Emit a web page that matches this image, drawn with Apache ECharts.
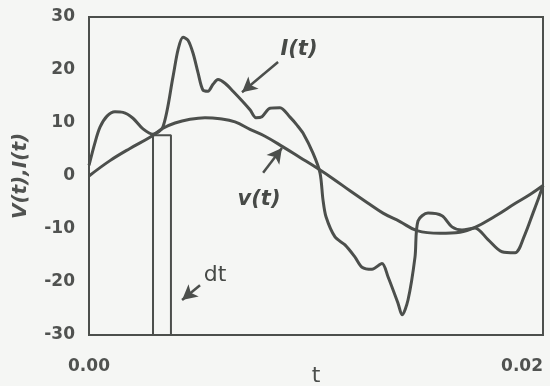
<!DOCTYPE html>
<html>
<head>
<meta charset="utf-8">
<script src="https://cdn.jsdelivr.net/npm/echarts@6/dist/echarts.min.js"></script>
<style>
html,body{margin:0;padding:0;background:#f5f6f4;}
#c{width:550px;height:386px;}
</style>
</head>
<body>
<div id="c"></div>
<script>
// time axis (s)
var tMin = 0, tMax = 0.02;
var yTicks = [-30, -20, -10, 0, 10, 20, 30];

// v(t): voltage
var vT = [0,0.000925,0.001806,0.002687,0.00326,0.003789,0.004449,0.00511,0.005771,0.006432,0.007093,0.007753,0.008546,0.009295,0.010044,0.010749,0.011498,0.012247,0.012952,0.0137,0.014449,0.015463,0.016344,0.017004,0.017885,0.018767,0.019427,0.02];
var vV = [0,2.9,5.2,7.3,9.0,10.0,10.7,11.0,10.8,10.2,8.8,7.5,5.5,3.5,1.5,-0.5,-2.8,-5.0,-7.0,-8.6,-10.3,-10.8,-10.6,-9.7,-7.6,-5.2,-3.5,-1.8];

// I(t): current
var iT = [0,0.000264,0.000485,0.000793,0.001145,0.001498,0.001938,0.002379,0.002819,0.00326,0.0037,0.003921,0.004141,0.004361,0.004581,0.004802,0.005022,0.005242,0.005463,0.005683,0.005991,0.006344,0.00674,0.007093,0.007357,0.007621,0.007974,0.008414,0.008855,0.009163,0.009427,0.009868,0.010176,0.010308,0.010441,0.010837,0.011278,0.011718,0.012026,0.012467,0.012907,0.013172,0.013612,0.013789,0.014053,0.014361,0.014493,0.014934,0.015551,0.015991,0.016432,0.017004,0.017577,0.018194,0.018767,0.019207,0.019559,0.01978,0.02];
var iV = [2.0,6.3,9.2,11.3,12.1,12.0,10.9,8.9,7.9,9.3,18.7,23.8,26.2,25.6,23.2,19.5,16.2,16.0,17.3,18.2,17.5,16.0,14.2,12.5,11.0,11.2,12.8,12.9,11.1,9.6,8.1,4.3,0.6,-4.5,-7.7,-11.5,-13.0,-15.3,-17.2,-17.6,-16.5,-19.0,-24.0,-26.2,-23.4,-15.3,-8.5,-7.0,-7.5,-9.6,-10.2,-9.8,-12.0,-14.3,-14.5,-11.0,-7.0,-4.5,-1.8];

// dt strip
var dtT = [0.00282, 0.00361];
var dtTop = 7.7;

// annotations: [label, labelT, labelV, arrowFromT, arrowFromV, arrowToT, arrowToV]
var notes = [
  ['I(t)', 0.00925, 23.8, 0.00833, 21.5, 0.00674, 15.8],
  ['v(t)', 0.00749, -4.5, 0.00767, 0.6, 0.0085, 5.3],
  ['dt',   0.00555, -18.7, 0.00489, -20.6, 0.0041, -23.4]
];

var ink = '#4c4f4c';
var font = 'DejaVu Sans';

function pairs(a, b){ return a.map(function(x,i){return [x,b[i]];}); }

var chart = echarts.init(document.getElementById('c'), null, {renderer:'canvas'});
chart.setOption({
  animation: false,
  backgroundColor: '#f5f6f4',
  grid: {left: 89, top: 17, width: 454, height: 318, outerBoundsMode: 'none', containLabel: false,
    show: true, borderColor: ink, borderWidth: 2, backgroundColor: 'transparent'},
  xAxis: {
    type: 'value', min: tMin, max: tMax, interval: 0.02,
    name: 't', nameLocation: 'middle', nameGap: 30, nameMoveOverlap: false,
    nameTextStyle: {fontFamily: font, fontSize: 22, color: ink},
    axisLine: {show: false}, axisTick: {show: false}, splitLine: {show: false},
    axisLabel: {margin: 23, fontFamily: font, fontWeight: 'bold', fontSize: 17, color: '#505250',
      alignMinLabel: 'center', alignMaxLabel: 'right',
      formatter: function(v){ return v.toFixed(2); }}
  },
  yAxis: {
    type: 'value', min: yTicks[0], max: yTicks[yTicks.length-1], interval: 10,
    name: 'V(t),I(t)', nameLocation: 'middle', nameGap: 58, nameMoveOverlap: false,
    nameTextStyle: {fontFamily: font, fontSize: 20, fontWeight: 'bold', fontStyle: 'italic', color: '#505250'},
    axisLine: {show: false}, axisTick: {show: false}, splitLine: {show: false},
    axisLabel: {margin: 14, fontFamily: font, fontWeight: 'bold', fontSize: 17, color: '#505250'}
  },
  series: [
    {type: 'line', name: 'v(t)', data: pairs(vT, vV), smooth: 0.4, showSymbol: false,
     lineStyle: {color: ink, width: 3}},
    {type: 'line', name: 'I(t)', data: pairs(iT, iV), smooth: 0.3, showSymbol: false,
     lineStyle: {color: ink, width: 3}},
    {type: 'line', name: 'dt', data: [[dtT[0], yTicks[0]], [dtT[0], dtTop], [dtT[1], dtTop], [dtT[1], yTicks[0]]],
     showSymbol: false, lineStyle: {color: ink, width: 2}},
    {type: 'line', name: 'notes', data: [], silent: true,
     markPoint: {symbol: 'circle', symbolSize: 0, silent: true,
       data: notes.map(function(n){
         var italic = n[0] !== 'dt';
         return {coord: [n[1], n[2]], label: {show: true, position: 'inside', formatter: n[0],
           fontFamily: font, fontSize: italic ? 21 : 22, fontWeight: italic ? 'bold' : 'normal',
           fontStyle: italic ? 'italic' : 'normal', color: '#474a47'}};
       })},
     markLine: {silent: true, symbol: ['none', 'arrow'], symbolSize: [12, 15],
       label: {show: false}, lineStyle: {color: ink, width: 2.5, type: 'solid'},
       data: notes.map(function(n){ return [{coord: [n[3], n[4]]}, {coord: [n[5], n[6]]}]; })}
    }
  ]
});
</script>
</body>
</html>
